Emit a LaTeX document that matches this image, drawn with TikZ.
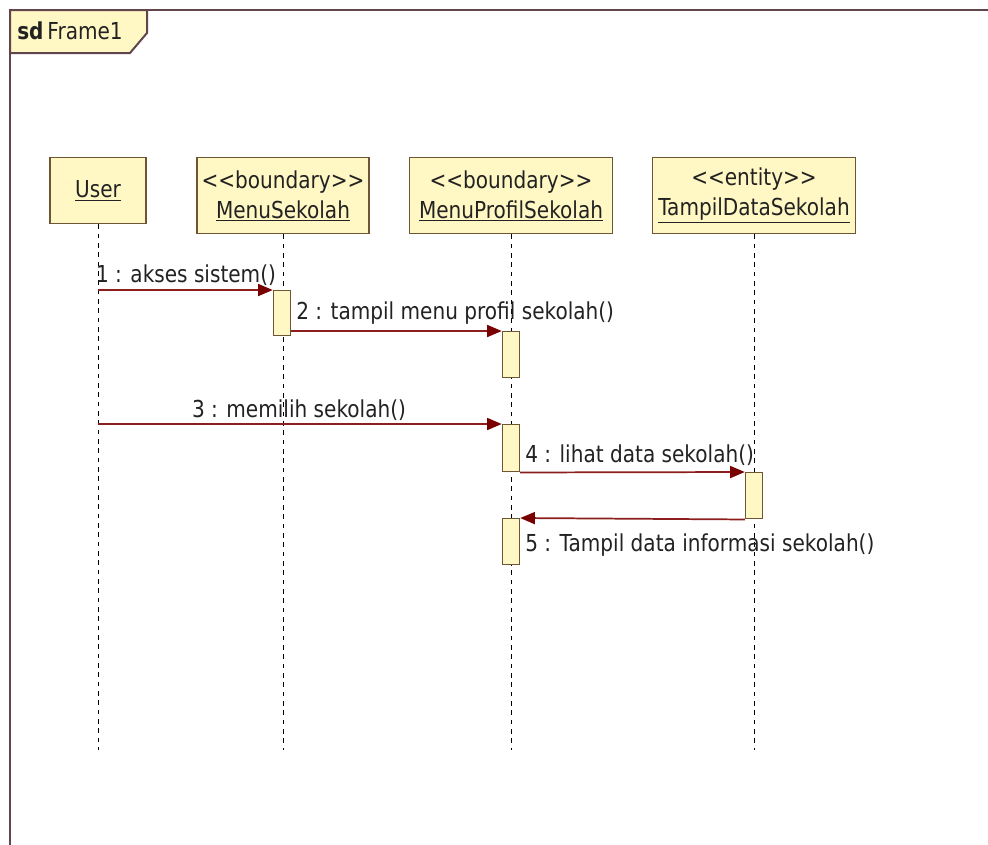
\documentclass[tikz,border=0pt]{standalone}
\usepackage{fontspec}
\setmainfont{DejaVu Sans}[FakeStretch=0.86]
\usetikzlibrary{arrows.meta}
\definecolor{umlfill}{RGB}{255,248,196}
\definecolor{umlborder}{RGB}{110,86,52}
\definecolor{framecol}{RGB}{96,70,74}
\definecolor{msgline}{RGB}{140,30,30}
\definecolor{msghead}{RGB}{120,0,0}
\definecolor{txt}{RGB}{34,34,34}
\begin{document}
\begin{tikzpicture}[x=0.75pt,y=-0.75pt,
  every node/.style={font=\fontsize{17.5}{22.5}\selectfont, text=txt},
  head/.style={draw=umlborder, fill=umlfill, line width=1.1pt, minimum height=57pt,
    align=center, inner sep=0pt, anchor=north},
  act/.style={draw=umlborder, fill=umlfill, line width=1.1pt, minimum width=12.75pt,
    inner sep=0pt, anchor=north},
  life/.style={draw=black, line width=0.7pt, dash pattern=on 3.5pt off 3.5pt},
  msg/.style={draw=msgline, line width=1.3pt,
    -{Triangle[length=11pt,width=9pt,fill=msghead,color=msghead]}},
  lbl/.style={inner sep=0pt}
]
\useasboundingbox (0,0) rectangle (988,844);
\fill[white] (0,0) rectangle (988,844);

% diagram frame and its "sd" tag
\begin{scope}
  \clip (0,0) rectangle (988,844);
  \draw[framecol, line width=1.5pt] (10,10) rectangle (1010,870);
\end{scope}
\draw[framecol, fill=umlfill, line width=1.5pt]
  (10,10) -- (147,10) -- (147,33) -- (130,53) -- (10,53) -- cycle;
\node[lbl, anchor=west] (tag) at (17,31) {\textbf{sd}\,Frame1};

% lifeline heads
\node[head, minimum width=72pt, minimum height=49.5pt] (user) at (98,157) {\underline{User}};
\node[head, minimum width=129pt] (ms) at (283,157) {<{}<boundary>{}>\\\underline{MenuSekolah}};
\node[head, minimum width=152pt] (mp) at (511,157) {<{}<boundary>{}>\\\underline{MenuProfilSekolah}};
\node[head, minimum width=152pt] (td) at (754,157) {<{}<entity>{}>\\\underline{TampilDataSekolah}};

% lifelines
\coordinate (lifeend) at (0,750);
\foreach \p in {user,ms,mp,td}
  \draw[life] (\p.south) -- (\p.south |- lifeend);

% activation bars
\node[act, minimum height=33.75pt] (a1) at (282,290) {};
\node[act, minimum height=34.5pt]  (a2) at (511,331) {};
\node[act, minimum height=35.25pt] (a3) at (511,424) {};
\node[act, minimum height=34.5pt]  (a4) at (754,472) {};
\node[act, minimum height=34.5pt]  (a5) at (511,518) {};

% messages
\draw[msg] (user.south |- a1.north) -- (a1.north west);
\draw[msg] (a1.east |- a2.north) -- (a2.north west);
\draw[msg] (user.south |- a3.north) -- (a3.north west);
\draw[msg] (a3.south east) -- (a4.north west);
\draw[msg] (a4.south west) -- (a5.north east);

% message labels
\node[lbl] (l1) at (186,275) {1 : akses sistem()};
\node[lbl, anchor=west] (l2) at (296,313) {2 : tampil menu profil sekolah()};
\node[lbl] (l3) at (299,410) {3 : memilih sekolah()};
\node[lbl, anchor=west] (l4) at (525,455) {4 : lihat data sekolah()};
\node[lbl, anchor=west] (l5) at (525,545) {5 : Tampil data informasi sekolah()};
\end{tikzpicture}
\end{document}
